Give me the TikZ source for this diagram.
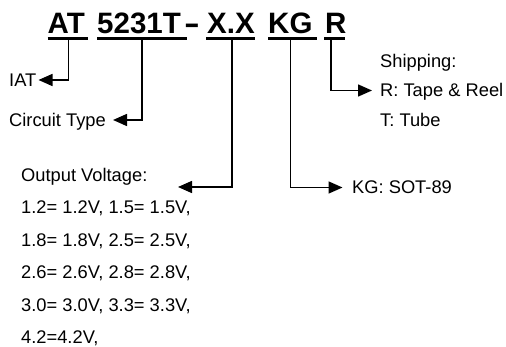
\documentclass[tikz,border=0pt]{standalone}
\usepackage{fontspec}
\setmainfont{Liberation Sans}
\usetikzlibrary{arrows.meta}
\begin{document}
\begin{tikzpicture}[x=1pt,y=-1pt,
  lbl/.style={inner sep=0pt, anchor=base west, text height=13pt, text depth=0pt, font=\fontsize{18.3}{20}\selectfont},
  ttl/.style={inner sep=0pt, anchor=base west, font=\fontsize{29.5}{32}\selectfont\bfseries},
  uline/.style={line width=3.2pt},
  conn/.style={line width=1.5pt, -{Triangle[length=14pt,width=12pt]}}]
\useasboundingbox (0,0) rectangle (506,347);
% title
\node[ttl] (t1) at (47.5,33.5) {AT};
\node[ttl] (t2) at (97,33.5) {5231T};
\node[ttl] (t2d) at (184,33.5) {\scalebox{1.6}[1]{-}};
\node[ttl] (t3) at (207,33.5) {X.X};
\node[ttl] (t4) at (268,33.5) {KG};
\node[ttl] (t5) at (325,33.5) {R};
% underlines
\coordinate (u1a) at (47.5,38.5); \coordinate (u1b) at (87.5,38.5);
\coordinate (u2a) at (97,38.5);   \coordinate (u2b) at (187,38.5);
\coordinate (u3a) at (206,38.5);  \coordinate (u3b) at (255,38.5);
\coordinate (u4a) at (268,38.5);  \coordinate (u4b) at (317,38.5);
\coordinate (u5a) at (324,38.5);  \coordinate (u5b) at (345,38.5);
\draw[uline] (u1a) -- (u1b);
\draw[uline] (u2a) -- (u2b);
\draw[uline] (u3a) -- (u3b);
\draw[uline] (u4a) -- (u4b);
\draw[uline] (u5a) -- (u5b);
% labels
\node[lbl] (iat) at (9,86.5) {IAT};
\node[lbl] (ct) at (9,126.5) {Circuit Type};
\node[lbl] (ov) at (21,181.5) {Output Voltage:};
\node[lbl] (v1) at (21,214) {1.2= 1.2V, 1.5= 1.5V,};
\node[lbl] (v2) at (21,246.5) {1.8= 1.8V, 2.5= 2.5V,};
\node[lbl] (v3) at (21,279) {2.6= 2.6V, 2.8= 2.8V,};
\node[lbl] (v4) at (21,311.5) {3.0= 3.0V, 3.3= 3.3V,};
\node[lbl] (v5) at (21,344) {4.2=4.2V,};
\node[lbl] (kg) at (352,194) {KG: SOT-89};
\node[lbl] (sh) at (380,67.5) {Shipping:};
\node[lbl] (tr) at (380,97) {R: Tape \& Reel};
\node[lbl] (tt) at (380,127) {T: Tube};
% connector starts
\coordinate (s1) at (68.5,40);
\coordinate (s2) at (142,40);
\coordinate (s3) at (232,40);
\coordinate (s4) at (290.5,40);
\coordinate (s5) at (331,40);
\coordinate (vtip) at (178,187);
% connectors
\draw[conn] (s1) |- ([xshift=2pt]iat.east);
\draw[conn] (s2) |- ([xshift=7pt]ct.east);
\draw[conn] (s3) |- (vtip);
\draw[conn] (s4) |- ([xshift=-9.5pt]kg.west);
\draw[conn] (s5) |- ([xshift=-8pt]tr.west);
\end{tikzpicture}
\end{document}
